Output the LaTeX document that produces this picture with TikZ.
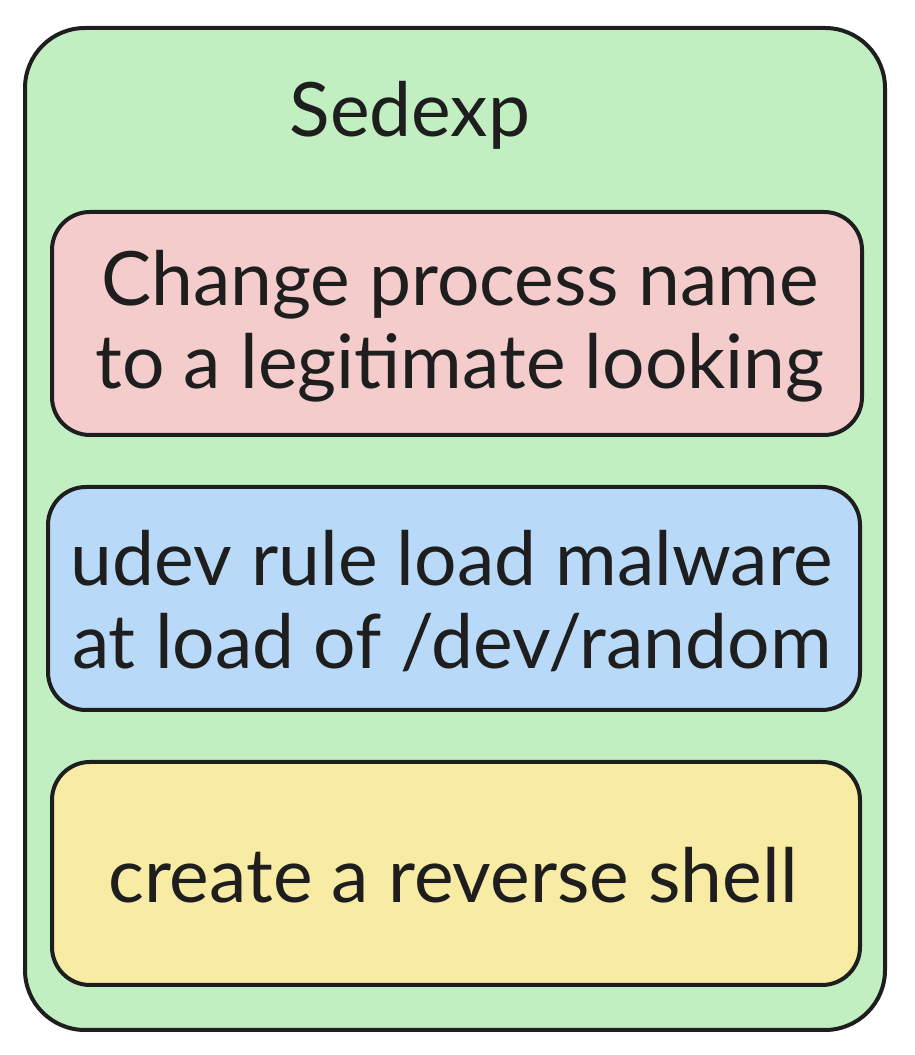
\documentclass[tikz,border=0pt]{standalone}
\usepackage{fontspec}
\setmainfont{Lato}
\definecolor{strokec}{HTML}{1E1E1E}
\definecolor{greenf}{HTML}{C2EFC2}
\definecolor{pinkf}{HTML}{F4CCCB}
\definecolor{bluef}{HTML}{B9D9F8}
\definecolor{yellowf}{HTML}{F8EBA3}
\begin{document}
\begin{tikzpicture}[x=1pt,y=1pt,
  frame/.style={draw=strokec,line width=4pt,rounded corners=60pt},
  card/.style={draw=strokec,line width=4pt,rounded corners=38pt},
  lbl/.style={text=strokec,font=\fontsize{75}{83}\selectfont,align=center,inner sep=0pt}]
\useasboundingbox (0,0) rectangle (915,1055);
\draw[frame,fill=greenf] (25,25) rectangle (885,1027);
\node[lbl] (title) at (410,940) {Sedexp};
\draw[card,fill=pinkf] (52,620) rectangle (862,843);
\node[lbl] (t1) at (460,729) {Change process name\\to a legitimate looking};
\draw[card,fill=bluef] (48,345) rectangle (860,568);
\node[lbl] (t2) at (452,454) {udev rule load malware\\at load of /dev/random};
\draw[card,fill=yellowf] (52,70) rectangle (860,293);
\node[lbl] (t3) at (453,180) {create a reverse shell};
\end{tikzpicture}
\end{document}
